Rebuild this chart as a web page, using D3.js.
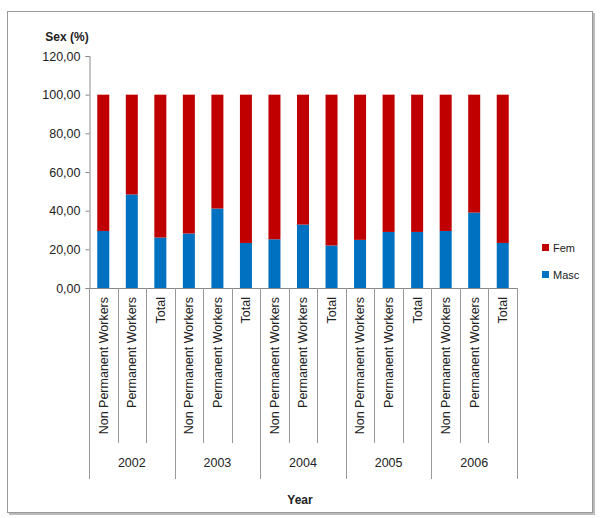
<!DOCTYPE html>
<html><head><meta charset="utf-8">
<script src="https://cdn.jsdelivr.net/npm/d3@7"></script>
<style>body{margin:0;background:#fff}</style>
</head><body>
<svg id="c" width="600" height="518"></svg>
<script>
const years = ["2002","2003","2004","2005","2006"];
const subCategories = ["Non Permanent Workers","Permanent Workers","Total"];
const masc = [29.5,48.4,26.1, 28.2,41.1,23.3, 25.2,32.8,22.0, 24.9,29.0,29.0, 29.5,39.0,23.3];
const fem  = masc.map(v => 100 - v);
const yTicks = [0,20,40,60,80,100,120];
const seriesNames = ["Fem","Masc"];
const colors = {Fem:"#C00000", Masc:"#0070C0"};

const font = "'Liberation Sans', Arial, sans-serif";
const svg = d3.select("#c");
// frame with shadow
svg.append("rect").attr("x",9).attr("y",13).attr("width",586).attr("height",502).attr("fill","#bbb");
svg.append("rect").attr("x",7.5).attr("y",11.5).attr("width",585).attr("height",501).attr("fill","#fff").attr("stroke","#999");

const cats = [];
years.forEach(y => subCategories.forEach(s => cats.push(y + "|" + s)));
const x = d3.scaleBand().domain(cats).range([89,517]);
const y = d3.scaleLinear().domain([0,120]).range([288,56]);
const barW = 12;

const data = cats.map((c,i) => ({c, Masc: masc[i], Fem: fem[i]}));
const stack = d3.stack().keys(["Masc","Fem"])(data);
svg.append("g").selectAll("g").data(stack).join("g")
  .attr("fill", d => colors[d.key])
  .selectAll("rect").data(d => d).join("rect")
  .attr("x", d => x(d.data.c) + x.bandwidth()/2 - barW/2)
  .attr("width", barW)
  .attr("y", d => y(d[1]))
  .attr("height", d => y(d[0]) - y(d[1]));

// y axis
const fmt = v => d3.format(".2f")(v).replace(".", ",");
const ya = svg.append("g").attr("transform","translate(89.5,0)")
  .call(d3.axisLeft(y).tickValues(yTicks).tickFormat(fmt).tickSize(4).tickPadding(5));
ya.selectAll("path,line").attr("stroke","#888");
ya.selectAll("text").attr("font-family",font).attr("font-size",12.5).attr("fill","#222");

// x axis line
svg.append("line").attr("x1",89).attr("x2",517).attr("y1",288.5).attr("y2",288.5).attr("stroke","#888");
// separators
cats.forEach((c,i) => {
  const xx = Math.round(x(c)) + 0.5;
  svg.append("line").attr("x1",xx).attr("x2",xx).attr("y1",288).attr("y2", i % 3 === 0 ? 479 : 443).attr("stroke","#999");
});
svg.append("line").attr("x1",517.5).attr("x2",517.5).attr("y1",288).attr("y2",479).attr("stroke","#999");

// sub labels
svg.append("g").selectAll("text").data(cats).join("text")
  .attr("transform", d => `translate(${x(d)+x.bandwidth()/2},297) rotate(-90)`)
  .attr("text-anchor","end").attr("dy","0.35em")
  .attr("font-family",font).attr("font-size",12.5).attr("fill","#222")
  .text(d => d.split("|")[1]);
// year labels
svg.append("g").selectAll("text").data(years).join("text")
  .attr("x", (d,i) => x(cats[i*3]) + x.bandwidth()*1.5)
  .attr("y", 467).attr("text-anchor","middle")
  .attr("font-family",font).attr("font-size",12.5).attr("fill","#222")
  .text(d => d);

svg.append("text").attr("x",300).attr("y",504).attr("text-anchor","middle")
  .attr("font-family",font).attr("font-size",12).attr("font-weight","bold").attr("fill","#222").text("Year");
svg.append("text").attr("x",67).attr("y",41).attr("text-anchor","middle")
  .attr("font-family",font).attr("font-size",12).attr("font-weight","bold").attr("fill","#222").text("Sex (%)");

// legend
const lg = svg.append("g");
seriesNames.forEach((n,i) => {
  const ly = 248 + i*27;
  lg.append("rect").attr("x",542).attr("y",ly-4).attr("width",7).attr("height",7).attr("fill",colors[n]);
  lg.append("text").attr("x",553).attr("y",ly).attr("dy","0.35em")
    .attr("font-family",font).attr("font-size",11).attr("fill","#222").text(n);
});
</script>
</body></html>
